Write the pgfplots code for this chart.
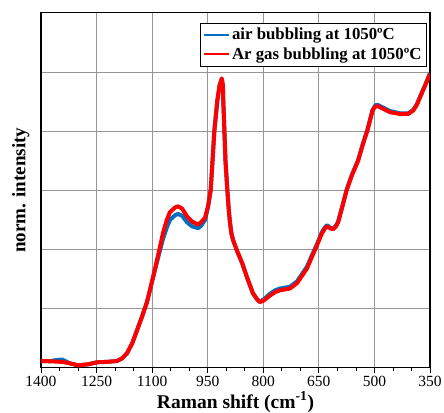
\documentclass[border=0pt]{standalone}
\usepackage{fontspec}
\setmainfont{Liberation Serif}
\usepackage{pgfplots}
\pgfplotsset{compat=1.18}
\definecolor{airblue}{RGB}{0,112,192}
\definecolor{argred}{RGB}{255,0,0}
\definecolor{gridgray}{RGB}{150,150,150}

\pgfplotstableread{
x y
1400 0.115
1376 0.11
1360 0.13
1343 0.14
1330 0.10
1322 0.076
1300 0.042
1273 0.059
1249 0.093
1222 0.10
1195 0.115
1181 0.16
1168 0.245
1154 0.41
1141 0.63
1127 0.87
1114 1.11
1106 1.31
1092 1.66
1079 1.98
1071 2.17
1061 2.36
1052 2.50
1038 2.58
1030 2.60
1019 2.57
1006 2.46
992 2.39
976 2.36
968 2.40
957 2.50
949 2.72
942 3.0
937 3.5
932 4.01
924 4.52
918 4.77
912 4.89
909 4.77
908 4.52
905 4.01
902 3.5
897 3.0
893 2.66
890 2.46
886 2.27
881 2.15
871 1.98
857 1.77
844 1.53
828 1.26
817 1.16
809 1.12
798 1.16
782 1.25
768 1.31
755 1.34
728 1.37
709 1.46
696 1.58
682 1.71
669 1.90
655 2.09
642 2.29
633 2.38
628 2.41
620 2.37
612 2.35
604 2.40
598 2.47
588 2.70
575 3.01
561 3.26
544 3.51
531 3.79
519 4.02
505 4.36
497 4.44
490 4.44
474 4.39
458 4.34
431 4.30
409 4.30
395 4.36
385 4.46
377 4.58
368 4.71
359 4.84
350 4.98
}\airdata

\pgfplotstableread{
x y
1400 0.115
1376 0.11
1343 0.10
1322 0.076
1300 0.042
1273 0.059
1249 0.093
1222 0.10
1195 0.115
1181 0.16
1168 0.245
1154 0.41
1141 0.63
1127 0.87
1114 1.11
1106 1.31
1092 1.68
1079 2.04
1071 2.27
1061 2.49
1052 2.63
1038 2.71
1030 2.73
1019 2.69
1006 2.56
992 2.47
976 2.42
968 2.46
957 2.54
949 2.74
942 3.0
937 3.5
932 4.01
924 4.52
918 4.77
912 4.89
909 4.77
908 4.52
905 4.01
902 3.5
897 3.0
893 2.66
890 2.46
886 2.27
881 2.15
871 1.98
857 1.77
844 1.53
828 1.26
817 1.16
809 1.11
798 1.14
782 1.22
768 1.28
755 1.31
728 1.34
709 1.43
696 1.55
682 1.68
669 1.87
655 2.07
642 2.27
633 2.36
628 2.39
620 2.36
612 2.34
604 2.39
598 2.46
588 2.69
575 3.0
561 3.25
544 3.5
531 3.78
519 4.01
505 4.35
497 4.42
490 4.42
474 4.37
458 4.32
431 4.29
409 4.29
395 4.35
385 4.45
377 4.57
368 4.70
359 4.83
350 4.97
}\ardata

\begin{document}
\begin{tikzpicture}
\begin{axis}[
  at={(0,0)}, anchor=south west,
  scale only axis,
  width=389pt, height=355pt,
  x dir=reverse,
  xmin=350, xmax=1400,
  ymin=0, ymax=6,
  xtick={350,500,...,1400},
  ytick={0,1,...,6},
  yticklabels={},
  minor x tick num=2,
  xtick align=outside,
  xtick pos=bottom,
  major tick length=5pt,
  minor tick length=3pt,
  ytick style={draw=none},
  xtick style={black, line width=0.8pt},
  grid=major,
  grid style={gridgray, line width=0.8pt},
  axis line style={black, line width=1.1pt},
  /pgf/number format/1000 sep={},
  /pgf/number format/assume math mode=true,
  xticklabel style={font=\fontsize{15.5}{18}\selectfont},
  xlabel={\textbf{Raman shift (cm\textsuperscript{-1})}},
  xlabel style={font=\fontsize{19.5}{22}\selectfont, at={(axis description cs:0.5,-0.114)}, anchor=base},
  ylabel={\textbf{norm. intensity}},
  ylabel style={font=\fontsize{19}{22}\selectfont, at={(axis description cs:-0.052,0.5)}, anchor=center},
  legend style={at={(rel axis cs:0.992,0.972)}, anchor=north east,
    draw=black, line width=0.8pt, fill=white,
    font=\fontsize{16.8}{19}\selectfont\bfseries,
    row sep=2.5pt, inner xsep=3pt, inner ysep=3pt},
  legend cell align=left,
  legend image code/.code={\draw[#1, line width=2pt] (0pt,0pt) -- (25pt,0pt);},
]
\addplot[airblue, line width=4pt, line join=round] table[x=x, y=y] {\airdata};
\addlegendentry{air bubbling at 1050ºC}
\addplot[argred, line width=4pt, line join=round] table[x=x, y=y] {\ardata};
\addlegendentry{Ar gas bubbling at 1050ºC}
\end{axis}
\pgfresetboundingbox
\path[use as bounding box] (-41pt,-44.5pt) rectangle (403pt,367.8pt);
\end{tikzpicture}
\end{document}
